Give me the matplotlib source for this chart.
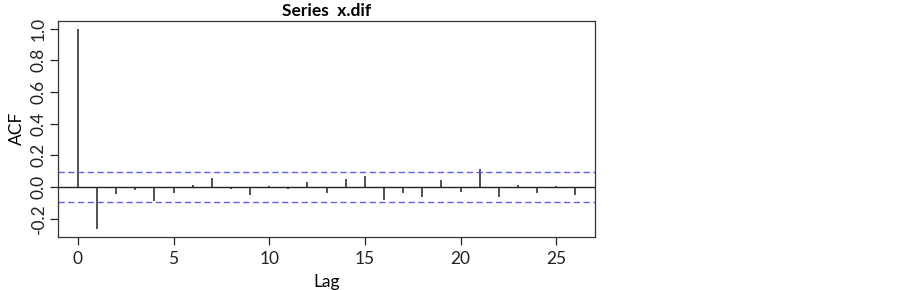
import numpy as np
import matplotlib.pyplot as plt

plt.rcParams['font.family'] = ['Lato', 'DejaVu Sans']

lags = np.arange(0, 27)
acf = [1.0, -0.265, -0.045, -0.02, -0.087, -0.037, 0.01, 0.059, -0.015, -0.052,
       0.006, -0.013, 0.033, -0.04, 0.05, 0.069, -0.085, -0.037, -0.061, 0.044,
       -0.03, 0.112, -0.064, 0.015, -0.04, 0.006, -0.05]
ci = 0.094

fig = plt.figure(figsize=(9.03, 2.9), dpi=100)
ax = fig.add_axes([0.0642, 0.183, 0.595, 0.746])

ax.vlines(lags, 0, acf, color="#222222", lw=1.1)
ax.axhline(0, color="#222222", lw=1.0)
ax.axhline(ci, color="#6060f0", lw=1.0, ls=(0, (4.5, 2.5)))
ax.axhline(-ci, color="#6060f0", lw=1.0, ls=(0, (4.5, 2.5)))

ax.set_xlim(-1.04, 27.04)
ax.set_ylim(-0.316, 1.05)
ax.set_xticks([0, 5, 10, 15, 20, 25])
ax.set_yticks([-0.2, 0.0, 0.2, 0.4, 0.6, 0.8, 1.0])
ax.set_yticklabels(["-0.2", "0.0", "0.2", "0.4", "0.6", "0.8", "1.0"],
                   rotation=90, va="center")
ax.tick_params(direction="out", length=6, width=0.9, labelsize=12.5, colors="#222222")
ax.tick_params(axis="x", pad=4)
ax.tick_params(axis="y", pad=2)
for s in ax.spines.values():
    s.set_linewidth(0.9)
    s.set_color("#333333")

ax.set_xlabel("Lag", fontsize=12.5, labelpad=5.5)
ax.set_ylabel("ACF", fontsize=12.5, labelpad=4)
ax.set_title("Series  x.dif", fontsize=12.5, fontweight="bold", pad=3)

plt.savefig("out.png", dpi=100)
